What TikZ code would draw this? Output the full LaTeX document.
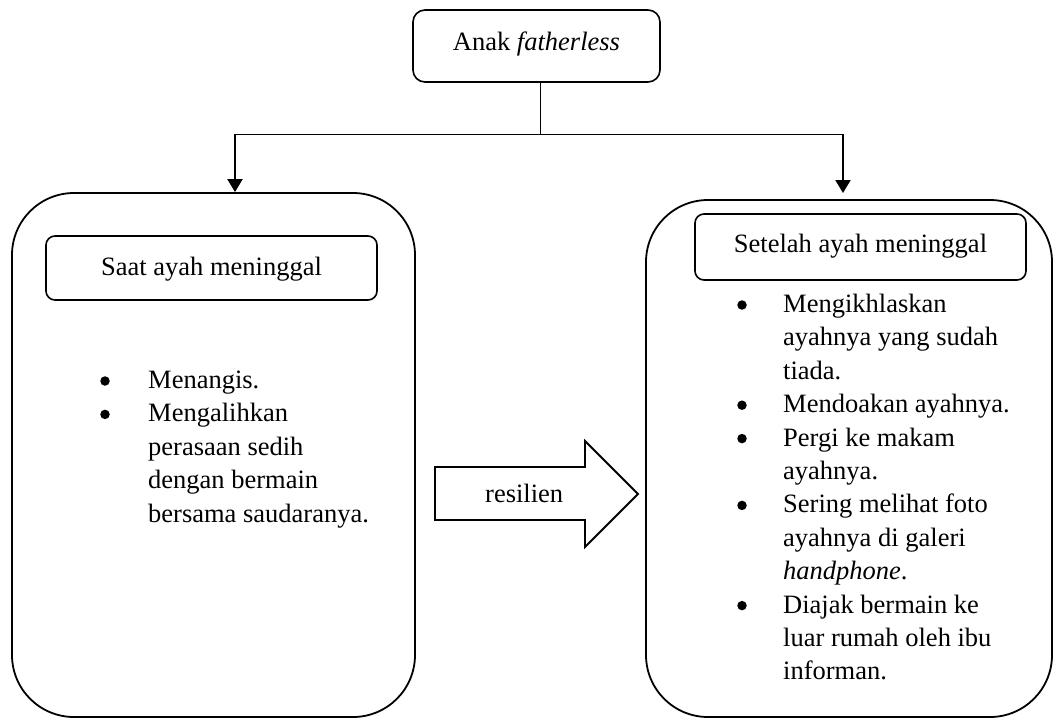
\documentclass[tikz,border=0pt]{standalone}
\usepackage{fontspec}
\setmainfont{Liberation Serif}
\usetikzlibrary{arrows.meta}
\tikzset{
  bigbox/.style={draw, line width=1.8pt, rounded corners=62pt, inner sep=0pt},
  smallbox/.style={draw, line width=1.6pt, rounded corners=9pt, inner sep=0pt},
  topbox/.style={draw, line width=1.6pt, rounded corners=12pt, inner sep=0pt},
  conn/.style={line width=1pt},
  arr/.style={line width=2pt, -{Triangle[length=13pt,width=15pt]}},
  txt/.style={inner sep=0pt, anchor=base},
  list/.style={inner sep=0pt, anchor=north west},
  dot/.style={circle, fill, inner sep=0pt, minimum size=9.5pt},
  every node/.style={font=\fontsize{26.5pt}{33.4pt}\selectfont}
}
\begin{document}
\begin{tikzpicture}[x=1pt,y=-1pt]
\useasboundingbox (0,0) rectangle (1060,720);
% top
\node[topbox, minimum width=247pt, minimum height=72pt] (top) at (536.5,46) {};
\node[txt] (toptxt) at (536.5,50) {Anak \textit{fatherless}};
% big boxes
\node[bigbox, minimum width=403pt, minimum height=524pt] (L) at (213.5,455) {};
\node[bigbox, minimum width=406pt, minimum height=517pt] (R) at (849,458.5) {};
% inner boxes
\node[smallbox, minimum width=331pt, minimum height=64pt] (Li) at (211.5,268) {};
\node[txt] (Lit) at (211.5,275) {Saat ayah meninggal};
\node[smallbox, minimum width=331pt, minimum height=66pt] (Ri) at (860.5,247) {};
\node[txt] (Rit) at (860.5,252) {Setelah ayah meninggal};
% connectors
\coordinate (split) at (540,134);
\coordinate (lc) at (235,134);
\coordinate (rc) at (843,134);
\coordinate (rtip) at (843,193);
\draw[conn] (split |- top.south) -- (split);
\draw[conn] (lc) -- (rc);
\draw[arr] (lc) -- (lc |- L.north);
\draw[arr] (rc) -- (rtip);
% lists
\node[list] (Llist) at (148,365) {%
\begin{tabular}{@{}l@{}}
Menangis.\\
Mengalihkan\\
perasaan sedih\\
dengan bermain\\
bersama saudaranya.
\end{tabular}};
\node[dot] (Lb1) at (105,381) {};
\node[dot] (Lb2) at (105,414.4) {};
\node[list] (Rlist) at (783,289) {%
\begin{tabular}{@{}l@{}}
Mengikhlaskan\\
ayahnya yang sudah\\
tiada.\\
Mendoakan ayahnya.\\
Pergi ke makam\\
ayahnya.\\
Sering melihat foto\\
ayahnya di galeri\\
\textit{handphone}.\\
Diajak bermain ke\\
luar rumah oleh ibu\\
informan.
\end{tabular}};
\node[dot] (Rb1) at (742,305) {};
\node[dot] (Rb2) at (742,405.2) {};
\node[dot] (Rb3) at (742,438.6) {};
\node[dot] (Rb4) at (742,505.4) {};
\node[dot] (Rb5) at (742,605.6) {};
% resilien arrow
\draw[line width=1.8pt, line join=miter] (435,467) -- (585,467) -- (585,441) -- (638,494) -- (585,547) -- (585,520) -- (435,520) -- cycle;
\node[txt, anchor=base west] (res) at (485,502) {resilien};
\end{tikzpicture}
\end{document}
